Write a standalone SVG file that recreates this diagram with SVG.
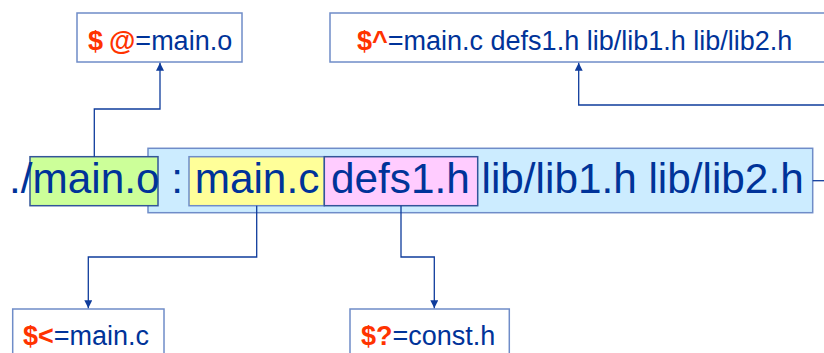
<svg xmlns="http://www.w3.org/2000/svg" width="824" height="353" viewBox="0 0 824 353">
<style>
.lbl{fill:#fff;stroke:#6F8CC8;stroke-width:1.5}
.t{font-family:"Liberation Sans",Arial,sans-serif;fill:#003399}
.s{font-size:27px}
.r{fill:#FF3300;font-weight:bold}
.big{font-size:42.3px}
.conn{fill:none;stroke:#0F3C9C;stroke-width:1.3}
</style>
<defs>
<marker id="ah" viewBox="0 0 10 10" refX="10" refY="5" markerWidth="8" markerHeight="8" markerUnits="userSpaceOnUse" orient="auto">
<path d="M0,0 L10,5 L0,10 z" fill="#0F3C9C"/>
</marker>
</defs>
<g id="rule">
<rect x="148" y="148.3" width="664.7" height="64.4" fill="#CCECFF" stroke="#6F8CC8" stroke-width="1.5"/>
<rect x="30" y="156.7" width="128" height="49" fill="#CCFF99" stroke="#335599" stroke-width="1.5"/>
<rect x="189" y="156.7" width="135.3" height="49" fill="#FFFF99" stroke="#6F8CC8" stroke-width="1.5"/>
<rect x="324.3" y="156.7" width="153.4" height="49" fill="#FFCCFF" stroke="#335599" stroke-width="1.5"/>
<text class="t big" x="9" y="193">./main.o : main.c defs1.h lib/lib1.h lib/lib2.h</text>
</g>
<g id="target">
<rect class="lbl" x="77" y="13" width="165" height="49"/>
<text class="t s" x="88" y="49.5"><tspan class="r">$</tspan><tspan class="r" dx="6" font-weight="normal">@</tspan>=main.o</text>
</g>
<g id="prereqs">
<rect class="lbl" x="330" y="13" width="500" height="49"/>
<text class="t s" x="357" y="49.5"><tspan class="r">$^</tspan>=main.c defs1.h lib/lib1.h lib/lib2.h</text>
</g>
<g id="first">
<rect class="lbl" x="12.7" y="309" width="151.3" height="60"/>
<text class="t s" x="23" y="345"><tspan class="r">$&lt;</tspan>=main.c</text>
</g>
<g id="newer">
<rect class="lbl" x="350" y="309" width="159.3" height="60"/>
<text class="t s" x="361" y="345"><tspan class="r">$?</tspan>=const.h</text>
</g>
<g id="connectors">
<path class="conn" d="M94.3,156.7 V109 H160 V62.8" marker-end="url(#ah)"/>
<path class="conn" d="M826,105 H578.7 V62.8" marker-end="url(#ah)"/>
<path class="conn" d="M812.7,180.7 H826"/>
<path class="conn" d="M256.7,205.7 V257 H88.3 V308.2" marker-end="url(#ah)"/>
<path class="conn" d="M401,205.7 V257 H434.3 V308.2" marker-end="url(#ah)"/>
</g>
</svg>
